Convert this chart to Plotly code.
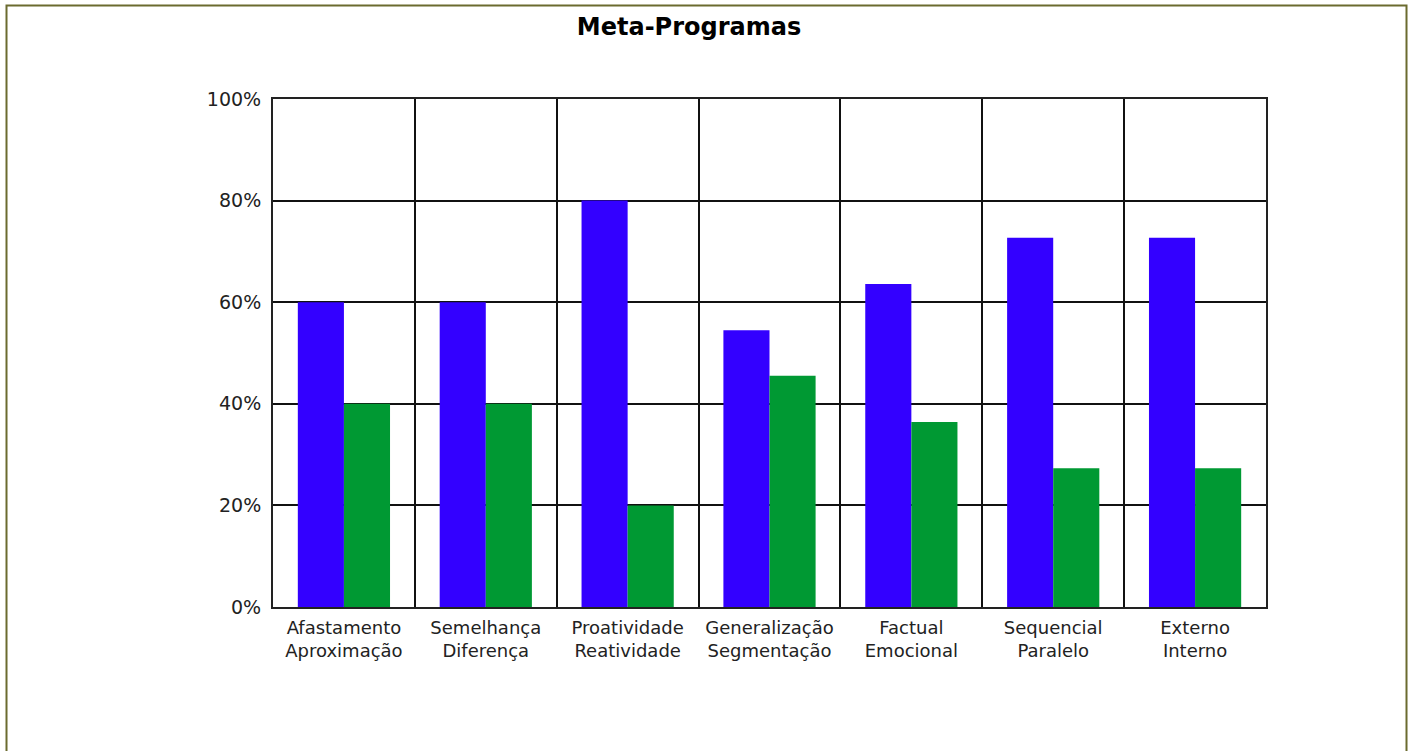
import plotly.graph_objects as go

categories = ["Afastamento<br>Aproximação", "Semelhança<br>Diferença", "Proatividade<br>Reatividade",
              "Generalização<br>Segmentação", "Factual<br>Emocional", "Sequencial<br>Paralelo", "Externo<br>Interno"]
serie_a = [60, 60, 80, 54.5, 63.6, 72.7, 72.7]
serie_b = [40, 40, 20, 45.5, 36.4, 27.3, 27.3]
y_ticks = [0, 20, 40, 60, 80, 100]

fig = go.Figure()
fig.add_trace(go.Bar(x=categories, y=serie_a, marker=dict(color="#3300FF", line=dict(width=0)), showlegend=False))
fig.add_trace(go.Bar(x=categories, y=serie_b, marker=dict(color="#009933", line=dict(width=0)), showlegend=False))

fig.update_layout(
    width=1414, height=751,
    margin=dict(l=273, r=148, t=99, b=144),
    paper_bgcolor="white", plot_bgcolor="white",
    barmode="group", bargap=0.35, bargroupgap=0,
    title=dict(text="<b>Meta-Programas</b>", x=689/1414, xref="container", xanchor="center",
               y=1-27/751, yref="container", yanchor="middle",
               font=dict(family="DejaVu Sans", size=24, color="black")),
    font=dict(family="DejaVu Sans", size=18, color="#222222"),
    xaxis=dict(type="category", tickson="boundaries", showgrid=True, gridcolor="#111111", gridwidth=1.5,
               showline=True, linecolor="#222222", linewidth=2, mirror=True, ticks="",
               ticklabelstandoff=3,
               tickfont=dict(family="DejaVu Sans", size=18, color="#222222")),
    yaxis=dict(range=[0, 100], tickvals=y_ticks, ticktext=[f"{v}%" for v in y_ticks],
               showgrid=True, gridcolor="#111111", gridwidth=1.5, zeroline=False,
               showline=True, linecolor="#222222", linewidth=2, mirror=True, ticks="",
               ticklabelstandoff=6,
               tickfont=dict(family="DejaVu Sans", size=19, color="#222222")),
    shapes=[dict(type="rect", xref="paper", yref="paper",
                 x0=(6.5-273)/993, x1=(1406.5-273)/993, y0=-0.35, y1=(607-5.5)/508,
                 line=dict(color="#6b6b2f", width=2), fillcolor="rgba(0,0,0,0)", layer="below")],
)

fig.write_html("out.html", config={"displayModeBar": False},
               post_script="document.body.style.margin='0';document.body.style.overflow='hidden';")
